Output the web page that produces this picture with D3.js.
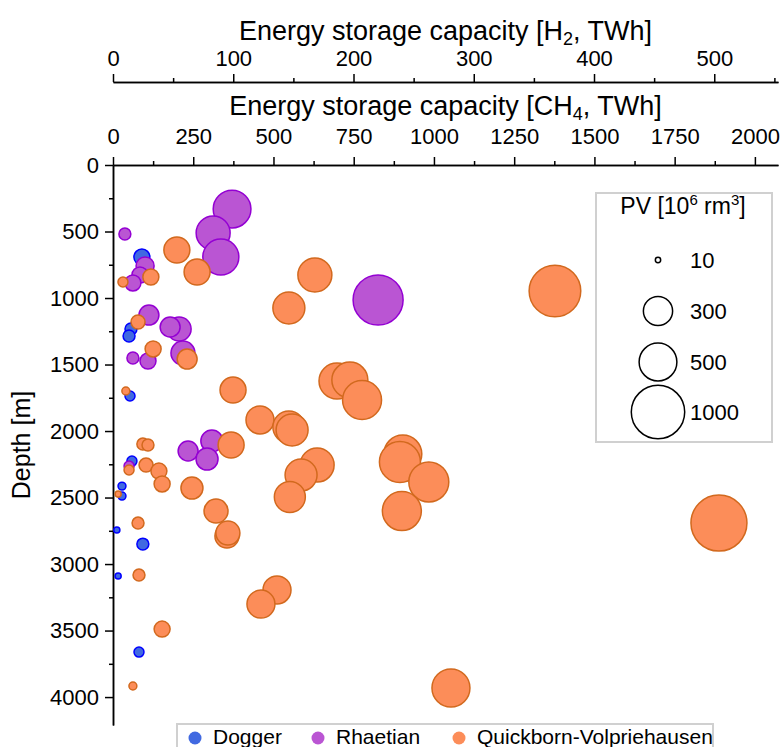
<!DOCTYPE html>
<html>
<head>
<meta charset="utf-8">
<script src="https://cdn.jsdelivr.net/npm/d3@7"></script>
<style>
  body { margin: 0; background: #fff; }
  svg { font-family: "Liberation Sans", Arial, sans-serif; }
</style>
</head>
<body>
<div id="chart"></div>
<script>
// [CH4 storage capacity (TWh), depth (m), pore volume (10^6 rm3)]
const doggerSites = [
  [90, 692, 90], [56, 1233, 50], [50, 1286, 50], [53, 1737, 35],
  [59, 2226, 35], [28, 2414, 22], [28, 2489, 22], [12, 2744, 13],
  [93, 2850, 50], [16, 3090, 13], [81, 3662, 35]
];
const rhaetianSites = [
  [371, 331, 500], [312, 511, 405], [336, 692, 455], [826, 1015, 877],
  [37, 519, 50], [100, 759, 114], [84, 827, 90], [62, 887, 90],
  [112, 1128, 140], [206, 1233, 202], [178, 1218, 140], [218, 1414, 202],
  [62, 1451, 50], [109, 1474, 90], [234, 2150, 140], [308, 2075, 170],
  [293, 2211, 170], [50, 2263, 35]
];
const quickbornSites = [
  [31, 880, 35], [118, 842, 90], [199, 639, 237], [262, 805, 237],
  [629, 827, 405], [548, 1075, 359], [1377, 947, 935], [78, 1180, 69],
  [125, 1383, 90], [231, 1459, 140], [40, 1699, 22], [374, 1692, 237],
  [698, 1624, 455], [738, 1617, 455], [776, 1767, 533], [458, 1917, 275],
  [548, 1970, 359], [558, 1992, 359], [903, 2173, 506], [894, 2233, 590],
  [984, 2383, 561], [900, 2602, 533], [636, 2256, 405], [586, 2331, 359],
  [551, 2496, 337], [368, 2105, 237], [93, 2098, 50], [109, 2105, 50],
  [50, 2293, 35], [103, 2256, 69], [143, 2301, 90], [153, 2398, 90],
  [246, 2429, 170], [16, 2474, 13], [78, 2692, 50], [321, 2602, 202],
  [355, 2789, 202], [358, 2767, 202], [81, 3083, 50], [511, 3195, 275],
  [461, 3301, 275], [153, 3489, 90], [62, 3917, 22], [1053, 3932, 506],
  [1888, 2692, 1100]
];

const formations = ['Dogger', 'Rhaetian', 'Quickborn-Volpriehausen'];
const fillColors = ['#4169e1', '#ba55d3', '#fc8d59'];
const strokeColors = ['#0000ff', '#9400d3', '#d2691e'];

const h2Ticks = [0, 100, 200, 300, 400, 500];
const ch4Ticks = [0, 250, 500, 750, 1000, 1250, 1500, 1750, 2000];
const depthTicks = [0, 500, 1000, 1500, 2000, 2500, 3000, 3500, 4000];
const sizeLegendValues = [10, 300, 500, 1000];

const width = 782, height = 747;
const plot = {left: 113, top: 165, right: 778, bottom: 725};

const svg = d3.select('#chart').append('svg')
  .attr('width', width)
  .attr('height', height);

const xCh4 = d3.scaleLinear().domain([0, 2072]).range([plot.left, plot.right]);
const xH2 = d3.scaleLinear().domain([0, 553]).range([plot.left, plot.right]);
const y = d3.scaleLinear().domain([0, 4210]).range([plot.top, plot.bottom]);
const r = d3.scaleSqrt().domain([0, 1000]).range([0, 26.7]);
const plain = d3.format('d');

function styleAxis(g) {
  g.selectAll('path, line').attr('stroke', '#000').attr('stroke-width', 1.5);
  g.selectAll('text').attr('fill', '#000').attr('font-size', 22)
    .attr('font-family', '"Liberation Sans", Arial, sans-serif');
}

function drawTopAxis(scale, yPos, major, minor, padding) {
  svg.append('g')
    .attr('transform', 'translate(0,' + yPos + ')')
    .call(d3.axisTop(scale).tickValues(minor).tickSize(4).tickSizeOuter(0).tickFormat(''))
    .call(styleAxis);
  svg.append('g')
    .attr('transform', 'translate(0,' + yPos + ')')
    .call(d3.axisTop(scale).tickValues(major).tickSize(8).tickSizeOuter(0)
      .tickPadding(padding).tickFormat(plain))
    .call(styleAxis);
}

drawTopAxis(xH2, 82, h2Ticks, d3.range(50, 553, 100), 8);
drawTopAxis(xCh4, plot.top, ch4Ticks, d3.range(125, 2072, 250), 13);

svg.append('g')
  .attr('transform', 'translate(' + plot.left + ',0)')
  .call(d3.axisLeft(y).tickValues(d3.range(250, 4210, 500)).tickSize(4).tickSizeOuter(0).tickFormat(''))
  .call(styleAxis);
svg.append('g')
  .attr('transform', 'translate(' + plot.left + ',0)')
  .call(d3.axisLeft(y).tickValues(depthTicks).tickSize(8).tickSizeOuter(0)
    .tickPadding(6).tickFormat(plain))
  .call(styleAxis);

// axis titles
const midX = (plot.left + plot.right) / 2;
const h2Title = svg.append('text').attr('x', midX).attr('y', 40)
  .attr('text-anchor', 'middle').attr('font-size', 27);
h2Title.append('tspan').text('Energy storage capacity [H');
h2Title.append('tspan').attr('font-size', 18).attr('dy', 5).text('2');
h2Title.append('tspan').attr('dy', -5).text(', TWh]');

const ch4Title = svg.append('text').attr('x', midX).attr('y', 115)
  .attr('text-anchor', 'middle').attr('font-size', 27);
ch4Title.append('tspan').text('Energy storage capacity [CH');
ch4Title.append('tspan').attr('font-size', 18).attr('dy', 5).text('4');
ch4Title.append('tspan').attr('dy', -5).text(', TWh]');

svg.append('text')
  .attr('transform', 'translate(30,' + ((plot.top + plot.bottom) / 2) + ') rotate(-90)')
  .attr('text-anchor', 'middle')
  .attr('font-size', 25)
  .text('Depth [m]');

// bubbles
const series = [doggerSites, rhaetianSites, quickbornSites];
series.forEach((sites, i) => {
  svg.append('g').selectAll('circle')
    .data(sites)
    .join('circle')
    .attr('cx', d => xCh4(d[0]))
    .attr('cy', d => y(d[1]))
    .attr('r', d => r(d[2]))
    .attr('fill', fillColors[i])
    .attr('stroke', strokeColors[i])
    .attr('stroke-width', 1.5);
});

// pore volume legend
const sizeLegend = svg.append('g');
sizeLegend.append('rect')
  .attr('x', 596).attr('y', 193).attr('width', 176).attr('height', 249)
  .attr('fill', '#fff').attr('fill-opacity', 0.8)
  .attr('stroke', '#d0d0d0').attr('stroke-width', 2);
const pvTitle = sizeLegend.append('text').attr('x', 683).attr('y', 214)
  .attr('text-anchor', 'middle').attr('font-size', 23);
pvTitle.append('tspan').text('PV [10');
pvTitle.append('tspan').attr('font-size', 15).attr('dy', -9).text('6');
pvTitle.append('tspan').attr('dy', 9).text(' rm');
pvTitle.append('tspan').attr('font-size', 15).attr('dy', -9).text('3');
pvTitle.append('tspan').attr('dy', 9).text(']');

const legendRows = [260, 311, 362, 412];
sizeLegendValues.forEach((v, i) => {
  sizeLegend.append('circle')
    .attr('cx', 658).attr('cy', legendRows[i]).attr('r', r(v))
    .attr('fill', 'none').attr('stroke', '#000').attr('stroke-width', 1.5);
  sizeLegend.append('text')
    .attr('x', 690).attr('y', legendRows[i] + 8)
    .attr('font-size', 22).text(v);
});

// formation legend
const colorLegend = svg.append('g');
colorLegend.append('rect')
  .attr('x', 177).attr('y', 724).attr('width', 536).attr('height', 40)
  .attr('fill', '#fff').attr('stroke', '#d0d0d0').attr('stroke-width', 2);
const legendX = [195, 318, 459];
formations.forEach((name, i) => {
  colorLegend.append('circle')
    .attr('cx', legendX[i]).attr('cy', 738).attr('r', 6.5)
    .attr('fill', fillColors[i]);
  colorLegend.append('text')
    .attr('x', legendX[i] + 18).attr('y', 744)
    .attr('font-size', 21).text(name);
});
</script>
</body>
</html>
